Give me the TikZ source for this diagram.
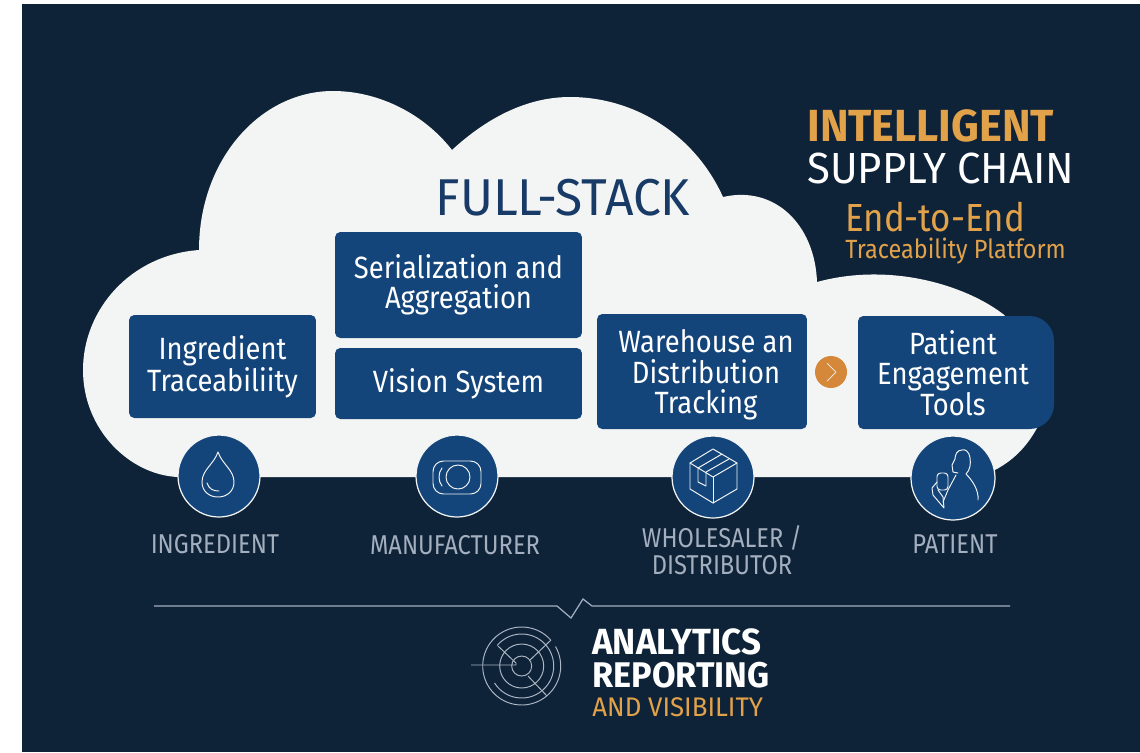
\documentclass[tikz,border=0pt]{standalone}
\usepackage{fontspec}
\setmainfont{Fira Sans}[FakeStretch=0.87]
\newfontfamily\headfont{Fira Sans}[FakeStretch=0.96]
\newfontfamily\midfont{Fira Sans}[FakeStretch=0.89]
\definecolor{navy}{HTML}{0F2338}
\definecolor{boxblue}{HTML}{14457A}
\definecolor{cloudwhite}{HTML}{F3F4F4}
\definecolor{amber}{HTML}{E2A24A}
\definecolor{badge}{HTML}{D5883A}
\definecolor{greylabel}{HTML}{A3AEBE}
\definecolor{titleblue}{HTML}{173A66}
\tikzset{
  stagebox/.style={fill=boxblue,rounded corners=3pt,text=white,align=center,inner sep=0pt,font=\midfont\fontsize{17.5}{17.3}\selectfont},
  stagetext/.style={text=white,align=center,inner sep=0pt,font=\midfont\fontsize{17.5}{17.3}\selectfont},
  rolecircle/.style={circle,fill=boxblue,draw=cloudwhite,line width=0.7pt,minimum size=1.64cm,inner sep=0pt},
  rolelabel/.style={text=greylabel,align=center,inner sep=0pt,font=\fontsize{15.5}{15.4}\selectfont},
  iconline/.style={draw=cloudwhite,line width=0.55pt,line join=round,line cap=round},
  radarline/.style={draw=greylabel!90!white,line width=0.55pt},
}
\begin{document}
\begin{tikzpicture}[x=0.02cm,y=-0.02cm]
  \useasboundingbox (0,0) rectangle (1140,752);
  \fill[navy] (22,4) rectangle (1140,752);

  % cloud
  \fill[cloudwhite] (199,250) .. controls (199,160) and (260,91) .. (333,91)
    .. controls (380,91) and (425,115) .. (452,150)
    .. controls (490,115) and (530,97) .. (570,97)
    .. controls (635,97) and (695,135) .. (723,197)
    .. controls (775,185) and (815,225) .. (817,282)
    .. controls (890,262) and (965,285) .. (1003,314)
    .. controls (1040,345) and (1045,400) .. (1037,428)
    .. controls (1025,450) and (1010,462) .. (995,470)
    -- (955,477) -- (178,477)
    .. controls (130,475) and (83,430) .. (83,370)
    .. controls (83,310) and (130,255) .. (199,250) -- cycle;

  % titles
  \node[text=titleblue,inner sep=0pt,font=\headfont\fontsize{29.5}{29}\selectfont](fullstack)at(563,198){FULL-STACK};
  \node[text=amber,anchor=west,inner sep=0pt,font=\headfont\fontsize{25.6}{28}\selectfont\bfseries](intelligent)at(807,126){INTELLIGENT};
  \node[text=white,anchor=west,inner sep=0pt,font=\headfont\fontsize{24.8}{28}\selectfont](supply)at(807,168){SUPPLY CHAIN};
  \node[text=amber,anchor=west,inner sep=0pt,font=\midfont\fontsize{22.3}{25}\selectfont](endtoend)at(845,217){End-to-End};
  \node[text=amber,anchor=west,inner sep=0pt,font=\midfont\fontsize{15}{16}\selectfont](platform)at(845,251){Traceability Platform};

  % stage boxes
  \node[stagebox,minimum width=3.74cm,minimum height=2.06cm](ingredient)at(222.5,366.5){Ingredient\\Traceabiliity};
  \node[stagebox,minimum width=4.94cm,minimum height=2.12cm](serial)at(458.5,285){Serialization and\\Aggregation};
  \node[stagebox,minimum width=4.94cm,minimum height=1.42cm](vision)at(458.5,383.5){Vision System};
  \node[stagebox,minimum width=4.2cm,minimum height=2.3cm](warehouse)at(702,371.5){};
  \node[stagetext](warehousetext)at(706,375){Warehouse an\\Distribution\\Tracking};
  \fill[boxblue,rounded corners=3pt] (858,372) -- (858,316) [rounded corners=14pt] -- (1054,316) -- (1054,429) [rounded corners=3pt] -- (858,429) -- cycle;
  \node[stagetext](engagement)at(953,373){Patient\\Engagement\\Tools};

  % arrow badge
  \node[circle,fill=badge,minimum size=0.64cm,inner sep=0pt](badge)at(831,372){};
  \draw[cloudwhite,line width=0.4pt] (827,363) -- (836,372) -- (827,381);

  % role circles
  \node[rolecircle](drop)at(219,476){};
  \node[rolecircle](camera)at(457,476){};
  \node[rolecircle](carton)at(713,477){};
  \node[rolecircle,minimum size=1.68cm](person)at(953,478){};

  \node[rolelabel](lingredient)at(215,544){INGREDIENT};
  \node[rolelabel](lmanufacturer)at(455,545){MANUFACTURER};
  \node[rolelabel](lwholesaler)at(722,550){WHOLESALER /\\DISTRIBUTOR};
  \node[rolelabel](lpatient)at(955,544){PATIENT};

  % drop icon
  \draw[iconline] (218,452) .. controls (214,464) and (202,470) .. (202,482) .. controls (202,491) and (209,497) .. (218,497) .. controls (227,497) and (234,491) .. (234,482) .. controls (234,470) and (222,464) .. (218,452) -- cycle;
  \draw[iconline] (207,483) .. controls (209,489) and (213,491) .. (219,491);

  % camera icon
  \draw[iconline,rounded corners=6pt] (433,461) rectangle (481,494);
  \draw[iconline] (458,477) circle (12);
  \draw[iconline] (442,468) .. controls (438,473) and (438,481) .. (442,486);

  % carton icon
  \draw[iconline] (713,449) -- (737,463) -- (737,489) -- (713,503) -- (690,489) -- (690,463) -- cycle;
  \draw[iconline] (690,463) -- (713,477) -- (737,463);
  \draw[iconline] (713,477) -- (713,503);
  \draw[iconline] (722,454) -- (698,468) -- (698,482) -- (706,486) -- (706,472) -- (729,459);

  % person icon
  \draw[iconline] (978,500) .. controls (979,490) and (972,480) .. (966,474) .. controls (970,470) and (971,464) .. (970,458) .. controls (969,451) and (965,449) .. (962,450) .. controls (957,450) and (955,455) .. (955,459) -- (952,465) -- (953,472) -- (958,473);
  \draw[iconline] (956,475) -- (948,490) -- (943,502);
  \draw[iconline,rounded corners=2pt] (937,473) rectangle (948,490);
  \draw[iconline] (937,482) -- (932,488) -- (933,495) -- (944,508) -- (943,497) -- (938,490);

  % analytics rule
  \coordinate (rulea) at (154,606);
  \coordinate (ruleb) at (557,606);
  \coordinate (rulec) at (571,618);
  \coordinate (ruled) at (583,599);
  \coordinate (rulee) at (592,606);
  \coordinate (rulef) at (1010,606);
  \draw[greylabel,line width=0.7pt] (rulea) -- (ruleb) -- (rulec) -- (ruled) -- (rulee) -- (rulef);

  % radar icon
  \coordinate (radar) at (521.7,666);
  \draw[radarline] (471,665) -- (516,665) -- (516,663) -- (498,646);
  \draw[radarline] (radar) circle (10);
  \draw[radarline] (radar) circle (22);
  \draw[radarline] (radar) ++(-140:32) arc (-140:148:32);
  \draw[radarline] (radar) ++(-42:39) arc (-42:-310:39);
  \draw[radarline] (radar) ++(-30:39) arc (-30:50:39);
  \draw[radarline] (551,640) -- (530,660);
  \draw[radarline] (528,676) -- (547,696);

  % analytics text
  \node[text=white,anchor=west,inner sep=0pt,font=\headfont\fontsize{20.7}{23}\selectfont\bfseries](analytics)at(592,642){ANALYTICS};
  \node[text=white,anchor=west,inner sep=0pt,font=\headfont\fontsize{20.3}{23}\selectfont\bfseries](reporting)at(592,675){REPORTING};
  \node[text=amber,anchor=west,inner sep=0pt,font=\headfont\fontsize{15.3}{17}\selectfont](visibility)at(592,707){AND VISIBILITY};
\end{tikzpicture}
\end{document}
